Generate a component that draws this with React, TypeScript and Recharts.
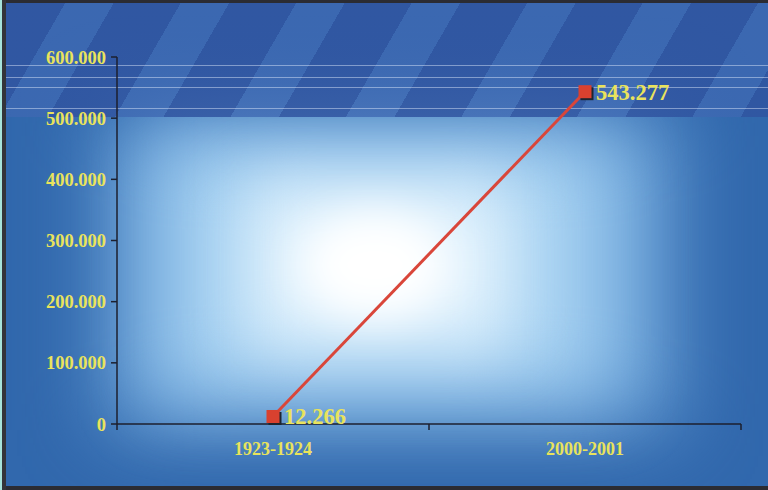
import React from 'react';
import { LineChart, Line, XAxis, YAxis, LabelList } from 'recharts';

const periods = ['1923-1924', '2000-2001'];
const values = [12266, 543277];
const yTicks = [0, 100000, 200000, 300000, 400000, 500000, 600000];

const data = periods.map((p, i) => ({ period: p, value: values[i] }));

const fmt = (v: number) => {
  if (v === 0) return '0';
  const s = String(Math.round(v));
  return s.replace(/\B(?=(\d{3})+(?!\d))/g, '.');
};

const YELLOW = '#e9e35c';
const FONT = '"Liberation Serif", "Times New Roman", serif';
const AXIS = '#1c1f2e';
const X_MARGIN = 19;

const XTick = (props: any) => {
  const { x, y, payload, index, visibleTicksCount } = props;
  const off = (payload && payload.offset) || 0;
  const axisY = y - X_MARGIN;
  const last = index === (visibleTicksCount ?? periods.length) - 1;
  return (
    <g>
      <line x1={x - off} x2={x - off} y1={axisY} y2={axisY + 6} stroke={AXIS} strokeWidth={1.5} />
      {last && <line x1={x + off} x2={x + off} y1={axisY} y2={axisY + 6} stroke={AXIS} strokeWidth={1.5} />}
      <text x={x} y={y} dy={12} textAnchor="middle" fill={YELLOW} fontSize={18} fontWeight="bold" fontFamily={FONT}>
        {payload.value}
      </text>
    </g>
  );
};

const Marker = (props: any) => {
  const { cx, cy } = props;
  if (cx == null || cy == null) return null;
  const s = 13;
  return (
    <g>
      <rect x={cx - s / 2 + 2} y={cy - s / 2 + 2} width={s} height={s} fill="#1d2530" />
      <rect x={cx - s / 2} y={cy - s / 2} width={s} height={s} fill="#d9412f" />
    </g>
  );
};

export default function App() {
  return (
    <div style={{ position: 'absolute', left: 0, top: 0, width: 768, height: 490, overflow: 'hidden', background: '#3168ad' }}>
      {/* glow layers */}
      <div style={{ position: 'absolute', left: 105, top: 110, width: 570, height: 320, background: '#6aa2d8', filter: 'blur(40px)' }} />
      <div style={{ position: 'absolute', left: 160, top: 140, width: 450, height: 255, background: '#a4d0f1', filter: 'blur(38px)' }} />
      <div style={{ position: 'absolute', left: 245, top: 180, width: 270, height: 170, background: '#e3f3fd', filter: 'blur(34px)' }} />
      <div style={{ position: 'absolute', left: 300, top: 210, width: 150, height: 110, borderRadius: '50%', background: '#ffffff', filter: 'blur(22px)' }} />
      {/* top band */}
      <div
        style={{
          position: 'absolute', left: 0, top: 0, width: 768, height: 117,
          background:
            'repeating-linear-gradient(120deg, rgba(48,84,160,0.85) 0px, rgba(48,84,160,0.85) 58px, rgba(62,104,178,0.78) 58px, rgba(62,104,178,0.78) 100px)',
        }}
      />
      {/* scan lines */}
      {[65, 77, 87, 108].map((y) => (
        <div key={y} style={{ position: 'absolute', left: 0, top: y, width: 768, height: 1, background: 'rgba(230,240,255,0.45)' }} />
      ))}
      {/* borders */}
      <div style={{ position: 'absolute', left: 0, top: 0, width: 768, height: 3, background: '#2b2c33' }} />
      <div style={{ position: 'absolute', left: 0, top: 486, width: 768, height: 4, background: '#2b2c33' }} />
      <div style={{ position: 'absolute', left: 0, top: 0, width: 2, height: 490, background: '#a6e3dc' }} />
      <div style={{ position: 'absolute', left: 2, top: 0, width: 4, height: 490, background: '#33343b' }} />

      <div style={{ position: 'absolute', left: 0, top: 0 }}>
        <LineChart width={768} height={490} data={data} margin={{ top: 57, right: 27, bottom: 26, left: 17 }}>
          <XAxis
            dataKey="period"
            scale="band"
            tickLine={false}
            tickSize={0}
            tickMargin={X_MARGIN}
            height={40}
            axisLine={{ stroke: AXIS, strokeWidth: 1.5 }}
            tick={<XTick />}
            interval={0}
          />
          <YAxis
            domain={[0, 600000]}
            ticks={yTicks}
            tickFormatter={fmt}
            width={100}
            tickSize={6}
            tickMargin={5}
            interval={0}
            axisLine={{ stroke: AXIS, strokeWidth: 1.5 }}
            tickLine={{ stroke: AXIS, strokeWidth: 1.5 }}
            tick={{ fill: YELLOW, fontSize: 18.5, fontWeight: 'bold', fontFamily: FONT }}
          />
          <Line
            type="linear"
            dataKey="value"
            stroke="#d9463a"
            strokeWidth={3}
            dot={<Marker />}
            activeDot={false}
            isAnimationActive={false}
          >
            <LabelList
              dataKey="value"
              position="right"
              offset={11}
              formatter={(v: any) => fmt(Number(v))}
              fill={YELLOW}
              fontSize={22.5}
              fontWeight="bold"
              fontFamily={FONT}
            />
          </Line>
        </LineChart>
      </div>
    </div>
  );
}
